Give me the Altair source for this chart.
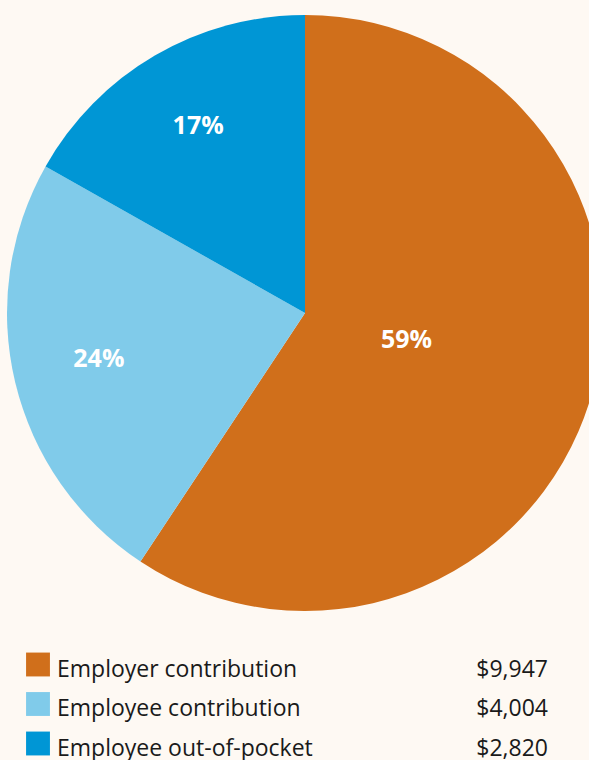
import altair as alt
import pandas as pd

categories = ["Employer contribution", "Employee contribution", "Employee out-of-pocket"]
amounts = [9947, 4004, 2820]
colors = ["#D06F1B", "#80CBEA", "#0096D5"]

df = pd.DataFrame({"category": categories, "amount": amounts, "idx": list(range(len(categories)))})

base = alt.Chart(df).transform_joinaggregate(
    total="sum(amount)"
).transform_calculate(
    share="datum.amount / datum.total",
    lr="datum.amount / datum.total > 0.5 ? 106 : 212",
)

color = alt.Color("category:N", sort=categories,
                  scale=alt.Scale(domain=categories, range=colors), legend=None)
cx, cy = 305, 313

pie = base.mark_arc(outerRadius=298, stroke=None).encode(
    theta=alt.Theta("amount:Q", stack=True), color=color, order=alt.Order("idx:Q"),
    x=alt.value(cx), y=alt.value(cy),
)

labels = base.transform_window(
    cum="sum(amount)", sort=[alt.SortField("idx", order="ascending")], frame=[None, 0]
).transform_calculate(
    ang="2 * PI * (datum.cum - datum.amount / 2) / datum.total"
).mark_text(font="Open Sans", fontSize=25, fontWeight="bold", dy=-4,
            color="white", baseline="middle", align="center").encode(
    theta=alt.Theta("ang:Q", scale=None, stack=False),
    radius=alt.Radius("lr:Q", scale=None),
    text=alt.Text("share:Q", format=".0%"),
    x=alt.value(cx), y=alt.value(cy),
)

ypos = alt.Y("category:N", sort=categories,
             scale=alt.Scale(type="point", range=[664.5, 743.5], padding=0), axis=None)

squares = base.mark_square(size=570, opacity=1).encode(
    x=alt.value(38), y=ypos, color=color,
)

names = base.mark_text(font="Open Sans", fontSize=23, color="#1a1a1a",
                       align="left", baseline="alphabetic", dy=12).encode(
    x=alt.value(57), y=ypos, text="category:N",
)

values = base.mark_text(font="Open Sans", fontSize=23, color="#1a1a1a",
                        align="right", baseline="alphabetic", dy=12).encode(
    x=alt.value(548), y=ypos, text=alt.Text("amount:Q", format="$,"),
)

chart = alt.layer(pie, labels, squares, names, values).properties(
    width=589, height=760, padding=0,
    autosize=alt.AutoSizeParams(type="none"),
    background="#FEF9F3",
).configure_view(stroke=None)

chart.save("out.html", embed_options={"renderer": "svg", "actions": False})
